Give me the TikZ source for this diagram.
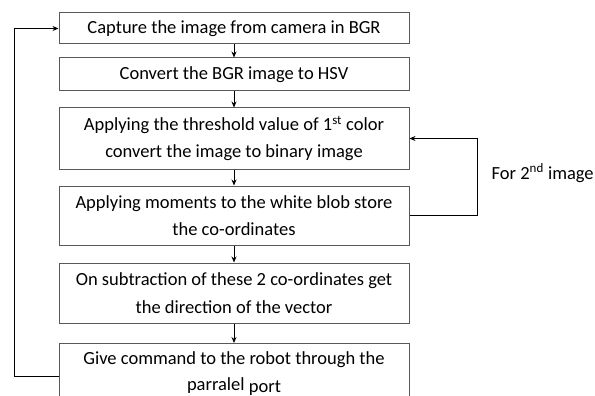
\documentclass[tikz,border=0pt]{standalone}
\usepackage{fontspec}
\setmainfont{Carlito}
\usetikzlibrary{arrows.meta}
\begin{document}
\begin{tikzpicture}[
	x=1pt, y=-1pt,
	stepbox/.style={
		rectangle,
		minimum width=350pt,
		draw=black!65,
		line width=1pt,
		fill=white,
		align=center,
		inner sep=2pt,
		font=\fontsize{18.5}{27.5}\selectfont,
	},
	>={Stealth[length=6pt,width=5pt]},
	every path/.append style={line width=0.8pt}
]
\useasboundingbox (0,0) rectangle (595,396);

\node[stepbox, minimum height=31pt] (cap) at (234,28.5) {Capture the image from camera in BGR};
\node[stepbox, minimum height=33pt] (hsv) at (234,74.5) {Convert the BGR image to HSV};
\node[stepbox, minimum height=61pt] (thr) at (234,138.5) {Applying the threshold value of 1\textsuperscript{st} color\\convert the image to binary image};
\node[stepbox, minimum height=59pt] (mom) at (234,215.5) {Applying moments to the white blob store\\the co-ordinates};
\node[stepbox, minimum height=60pt] (sub) at (234,293) {On subtraction of these 2 co-ordinates get\\the direction of the vector};
\node[stepbox, minimum height=60pt, anchor=north] (cmd) at (234,343) {Give command to the robot through the\\[-2pt]parralel \raisebox{-2pt}{port}};

\draw[->] (cap.south) -- (hsv.north);
\draw[->] (hsv.south) -- (thr.north);
\draw[->] (thr.south) -- (mom.north);
\draw[->] (mom.south) -- (sub.north);
\draw[->] (sub.south) -- (cmd.north);

% loop back to the first step
\draw[->] (cmd.west |- 0,376) -- (14,376) |- (cap.west);

% second image
\draw[->] (mom.east) -- (477,215.5) |- (thr.east);
\node[font=\fontsize{18.5}{20}\selectfont, anchor=west] (snd) at (488,173) {For 2\textsuperscript{nd} image};

\end{tikzpicture}
\end{document}
